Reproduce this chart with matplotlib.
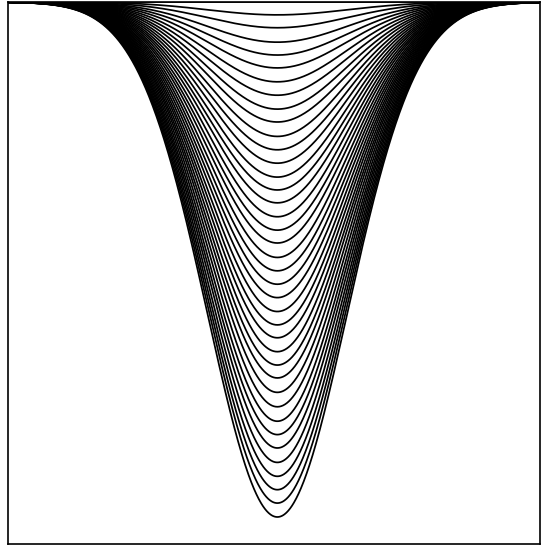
"""Family of nested Gaussian dips drawn inside a plain frame."""

import numpy as np
import matplotlib
matplotlib.use("Agg")
import matplotlib.pyplot as plt

# depth of each curve at its lowest point (deepest curve = 1.0)
depths = [0.000, 0.025, 0.050, 0.078, 0.103, 0.128, 0.155, 0.181, 0.208, 0.233,
          0.261, 0.287, 0.313, 0.340, 0.365, 0.390, 0.417, 0.443, 0.468, 0.496,
          0.522, 0.548, 0.574, 0.601, 0.627, 0.652, 0.679, 0.705, 0.730, 0.758,
          0.786, 0.814, 0.840, 0.866, 0.894, 0.921, 0.947, 0.973, 1.000]

# common width of the dip and where its centre sits
width = 1.04
centre = 0.05

x = np.linspace(-4.2, 4.2, 1200)
profile = np.exp(-(x - centre) ** 2 / (2 * width ** 2))

fig = plt.figure(figsize=(5.46, 5.48), dpi=100)
ax = fig.add_axes([8 / 546, 4 / 548, 532 / 546, 542 / 548])

for d in depths:
    ax.plot(x, -d * profile, color="black", linewidth=1.25)

ax.set_xlim(-3.97, 3.97)
ax.set_ylim(-542 / 515, 0.0)
ax.set_xticks([])
ax.set_yticks([])
for s in ax.spines.values():
    s.set_linewidth(1.2)
    s.set_color("black")

fig.savefig("out.png", dpi=100)
plt.close(fig)
